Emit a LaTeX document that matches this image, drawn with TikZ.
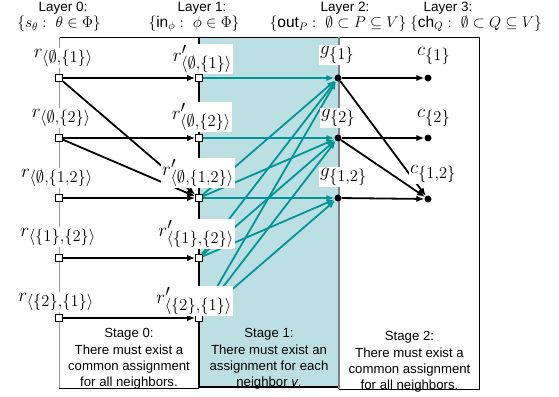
\RequirePackage{fix-cm}
\documentclass[tikz,border=0pt]{standalone}
\usepackage{fontspec}
\setsansfont{Liberation Sans}
\usetikzlibrary{arrows.meta}
\DeclareMathSizes{19}{19}{16.5}{12}
\definecolor{tealfill}{RGB}{187,223,227}
\definecolor{tealline}{RGB}{0,150,150}
\begin{document}
\begin{tikzpicture}[x=1pt,y=-1pt,
  sq/.style={rectangle,draw,fill=white,line width=0.8pt,minimum size=7pt,inner sep=0pt},
  dot/.style={circle,fill=black,minimum size=7pt,inner sep=0pt},
  lab/.style={fill=white,inner sep=1pt,font=\fontsize{19}{22}\selectfont},
  blk/.style={line width=1.8pt,-{Latex[length=8pt,width=6.5pt]}},
  tl/.style={line width=1.8pt,draw=tealline,-{Latex[length=8pt,width=6.5pt]}},
  hdr/.style={font=\sffamily\fontsize{13.5}{15}\selectfont,inner sep=0pt},
  setl/.style={font=\fontsize{15.5}{18}\selectfont,inner sep=0pt},
  stg/.style={font=\sffamily\fontsize{13.2}{16.3}\selectfont,align=center,inner sep=0pt}]
\useasboundingbox (0,0) rectangle (559,396);
% boxes
\fill[tealfill] (199,37) rectangle (339,387);
\draw[line width=0.8pt] (59,37) -- (479,37);
\draw[gray!80,line width=0.8pt] (59,37) -- (59,388);
\draw[line width=0.8pt] (59,388) -- (199,388);
\draw[line width=1.2pt] (199,37) -- (199,387) -- (339,387);
\draw[gray,line width=1.2pt] (339,37) -- (339,389);
\draw[line width=0.8pt] (339,389) -- (479,389) -- (479,37);
% headers
\node[hdr] (h0) at (63,8) {Layer 0:};
\node[setl] (s0) at (59,24) {$\{s_\theta:\ \theta\in\Phi\}$};
\node[hdr] (h1) at (202,8) {Layer 1:};
\node[setl] (s1) at (194,24) {$\{\textsf{in}_\phi:\ \phi\in\Phi\}$};
\node[hdr] (h2) at (345,8) {Layer 2:};
\node[setl] (s2) at (338,24) {$\{\textsf{out}_P:\ \emptyset\subset P\subseteq V\}$};
\node[hdr] (h3) at (448,8) {Layer 3:};
\node[setl] (s3) at (476,24) {$\{\textsf{ch}_Q:\ \emptyset\subset Q\subseteq V\}$};
% stage texts
\node[stg] (t0) at (129,359) {Stage 0:\\There must exist a\\common assignment\\for all neighbors.};
\node[stg] (t1) at (269,359) {Stage 1:\\There must exist an\\assignment for each\\neighbor \textit{v}.};
\node[stg] (t2) at (409.5,362) {Stage 2:\\There must exist a\\common assignment\\for all neighbors.};
% nodes
\node[sq] (a1) at (59,78) {};
\node[sq] (a2) at (59,138) {};
\node[sq] (a3) at (59,198) {};
\node[sq] (a4) at (59,258) {};
\node[sq] (a5) at (59,318) {};
\node[sq] (b1) at (199,78) {};
\node[sq] (b2) at (199,138) {};
\node[sq] (b3) at (199,198) {};
\node[sq] (b4) at (199,258) {};
\node[sq] (b5) at (199,318) {};
\node[dot] (g1) at (338,78) {};
\node[dot] (g2) at (338,138) {};
\node[dot] (g3) at (338,198) {};
\node[dot] (c1) at (428,78) {};
\node[dot] (c2) at (428,138) {};
\node[dot] (c3) at (428,199) {};
% teal edges
\draw[tl] (b1) -- (g1);
\draw[tl] (b2) -- (g2);
\draw[tl] (b3) -- (g1);
\draw[tl] (b3) -- (g2);
\draw[tl] (b3) -- (g3);
\draw[tl] (b4) -- (g1);
\draw[tl] (b4) -- (g2);
\draw[tl] (b4) -- (g3);
\draw[tl] (b5) -- (g1);
\draw[tl] (b5) -- (g2);
\draw[tl] (b5) -- (g3);
% black edges
\draw[blk] (a1) -- (b1);
\draw[blk] (a1) -- (b3);
\draw[blk] (a2) -- (b2);
\draw[blk] (a2) -- (b3);
\draw[blk] (a3) -- (b3);
\draw[blk] (a4) -- (b4);
\draw[blk] (a5) -- (b5);
\draw[blk] (g1) -- (c1);
\draw[blk] (g1) -- (c3);
\draw[blk] (g2) -- (c2);
\draw[blk] (g2) -- (c3);
\draw[blk] (g3) -- (c3);
% labels
\node[lab,anchor=east] (la1) at (94,58) {$r_{\langle\emptyset,\{1\}\rangle}$};
\node[lab,anchor=east] (la2) at (92,118) {$r_{\langle\emptyset,\{2\}\rangle}$};
\node[lab,anchor=east] (la3) at (94,178) {$r_{\langle\emptyset,\{1,2\}\rangle}$};
\node[lab,anchor=east] (la4) at (97,237) {$r_{\langle\{1\},\{2\}\rangle}$};
\node[lab,anchor=east] (la5) at (95,302) {$r_{\langle\{2\},\{1\}\rangle}$};
\node[lab,anchor=east] (lb1) at (233,59) {$r'_{\langle\emptyset,\{1\}\rangle}$};
\node[lab,anchor=east] (lb2) at (232,117) {$r'_{\langle\emptyset,\{2\}\rangle}$};
\node[lab,anchor=east] (lb3) at (235,173) {$r'_{\langle\emptyset,\{1,2\}\rangle}$};
\node[lab,anchor=east] (lb4) at (235,234) {$r'_{\langle\{1\},\{2\}\rangle}$};
\node[lab,anchor=east] (lb5) at (233,301) {$r'_{\langle\{2\},\{1\}\rangle}$};
\node[lab,anchor=west] (lg1) at (319,55) {$g_{\{1\}}$};
\node[lab,anchor=west] (lg2) at (320,118) {$g_{\{2\}}$};
\node[lab,anchor=west] (lg3) at (319,177) {$g_{\{1,2\}}$};
\node[lab,anchor=west] (lc1) at (416,56) {$c_{\{1\}}$};
\node[lab,anchor=west] (lc2) at (416,118) {$c_{\{2\}}$};
\node[lab,anchor=west] (lc3) at (409,174) {$c_{\{1,2\}}$};
\end{tikzpicture}
\end{document}
